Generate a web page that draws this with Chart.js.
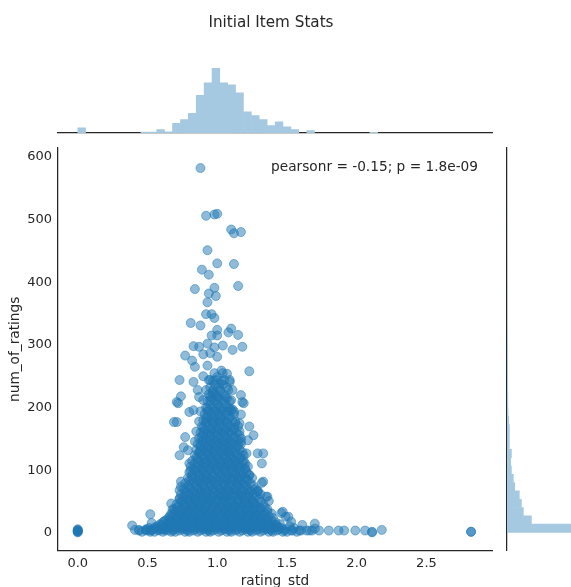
<!DOCTYPE html>
<html>
<head>
<meta charset="utf-8">
<script src="https://cdn.jsdelivr.net/npm/chart.js@4.4.1/dist/chart.umd.min.js"></script>
<style>
  body { margin: 0; background: #fff; overflow: hidden; width: 571px; height: 587px; }
  canvas { position: absolute; left: 0; top: 0; }
</style>
</head>
<body>
<canvas id="mainChart" width="571" height="590"></canvas>
<canvas id="topHist" width="542" height="140"></canvas>
<canvas id="rightHist" width="600" height="590"></canvas>
<script>
// ---- data ----
const titleText = 'Initial Item Stats';
const xLabel = 'rating_std';
const yLabel = 'num_of_ratings';
const noteText = 'pearsonr = -0.15; p = 1.8e-09';

// scatter: [rating_std, num_of_ratings]
const zeroPoints = [[0,1],[0,2],[0,3],[0,4],[0,5],[0,6],[0,3]];
const upperPoints = [
  [0.88,582],[0.92,506],[0.98,508],[1.0,509],[1.10,484],[1.12,478],[1.17,480],
  [0.93,451],[1.0,430],[1.12,429],[0.89,420],[0.94,412],[0.84,389],[0.98,391],
  [1.15,394],[0.94,382],[0.99,378],[0.93,368],[0.92,349],[0.96,349],[0.98,343],
  [0.81,335],[0.88,331],[0.96,315],[1.0,324],[1.0,315],[1.08,320],[1.10,326],
  [1.15,316],[0.83,298],[0.87,297],[0.93,302],[0.98,296],[1.04,299],[1.11,292],
  [1.18,297],[0.77,283],[0.82,275],[0.90,285],[0.95,287],[1.0,281],[0.93,267],
  [0.84,265],[1.03,259],[1.07,254],[1.23,258],[0.73,244],[0.83,241],[0.90,250],
  [0.95,244],[1.02,238],[1.09,241],[1.11,228],[0.74,218],[0.71,209],[0.86,228],
  [0.87,217],[0.97,222],[1.17,220],[1.18,209]
];
const sidePoints = [
  [0.72,207],[0.69,177],[0.71,177],[0.80,193],[0.83,196],[1.17,189],[1.11,197],
  [1.19,207],[1.23,170],[1.26,156],[1.22,148],[1.16,175],[0.77,153],[0.76,137],
  [0.73,124],[0.79,132],[1.29,127],[1.33,127],[1.32,111],[1.21,127],[1.20,103],
  [1.23,92],[0.80,111],[0.81,100],[1.33,82],[1.29,68],[1.36,58],[0.74,82],[0.73,68]
];
const lowPoints = [
  [0.39,12],[0.41,5],[0.44,5],[0.52,30],[0.53,16],[0.49,5],[0.53,5],[0.58,5],
  [0.62,5],[0.67,47],[0.68,38],[0.65,16],[0.74,74],[0.73,55],[1.32,80],[1.29,66],
  [1.35,58],[1.37,51],[1.46,32],[1.49,26],[1.53,18],[1.61,13],[1.47,34],[1.51,26],
  [1.70,15],[1.70,7]
];
const tailPoints = [
  [1.54,4],[1.59,4],[1.64,4],[1.68,4],[1.73,4],[1.80,4],[1.87,4],[1.91,4],
  [1.99,4],[2.06,4],[2.11,1],[2.11,2],[2.18,5],[2.82,2],[2.82,2]
];
// dense core: [num_of_ratings, [rating_std values at that level]]
const coreRows = [
  [2, [0.46,0.52,0.55,0.61,0.67,0.7,0.77,0.8,0.86,0.92,0.95,1.01,1.07,1.1,1.16,1.22,1.25,1.31,1.37,1.4,1.47,1.5,1.57]],
  [4, [0.44,0.49,0.52,0.58,0.64,0.68,0.73,0.79,0.83,0.88,0.94,0.97,1.03,1.09,1.13,1.18,1.24,1.28,1.33,1.39,1.43,1.48,1.53,1.6,1.66]],
  [6, [0.49,0.54,0.6,0.63,0.69,0.75,0.78,0.84,0.9,0.93,0.99,1.05,1.08,1.14,1.2,1.23,1.29,1.35,1.38,1.44,1.49]],
  [8, [0.51,0.57,0.62,0.66,0.72,0.76,0.81,0.87,0.91,0.96,1.02,1.06,1.11,1.17,1.21,1.26,1.32,1.36,1.41,1.46,1.55]],
  [11, [0.57,0.63,0.68,0.72,0.78,0.83,0.88,0.92,0.98,1.03,1.08,1.12,1.18,1.23,1.28,1.33,1.38,1.43,1.52]],
  [14, [0.59,0.65,0.7,0.75,0.8,0.85,0.9,0.95,1.0,1.05,1.1,1.15,1.2,1.25,1.3,1.35,1.4,1.45]],
  [17, [0.61,0.67,0.72,0.77,0.82,0.87,0.93,0.97,1.02,1.07,1.13,1.17,1.22,1.27,1.33,1.37,1.42]],
  [20, [0.63,0.69,0.74,0.79,0.84,0.89,0.94,0.99,1.04,1.09,1.14,1.19,1.24,1.29,1.34,1.39]],
  [24, [0.65,0.7,0.75,0.81,0.85,0.9,0.96,1.0,1.05,1.11,1.15,1.2,1.26,1.3,1.35,1.4]],
  [27, [0.66,0.72,0.77,0.82,0.87,0.92,0.97,1.02,1.07,1.12,1.17,1.22,1.27,1.32,1.37]],
  [31, [0.67,0.73,0.78,0.83,0.89,0.93,0.98,1.04,1.08,1.13,1.19,1.23,1.28,1.34,1.39]],
  [34, [0.7,0.75,0.8,0.86,0.91,0.95,1.01,1.06,1.1,1.16,1.21,1.26,1.3,1.36]],
  [38, [0.69,0.75,0.8,0.85,0.9,0.96,1.0,1.06,1.1,1.15,1.21,1.25,1.31,1.36]],
  [42, [0.72,0.78,0.83,0.88,0.92,0.98,1.03,1.08,1.13,1.17,1.23,1.28,1.34]],
  [46, [0.71,0.77,0.82,0.87,0.93,0.97,1.03,1.07,1.12,1.18,1.22,1.27,1.33]],
  [50, [0.74,0.8,0.85,0.9,0.95,1.01,1.06,1.11,1.16,1.21,1.26,1.31]],
  [54, [0.73,0.79,0.84,0.89,0.94,1.0,1.04,1.09,1.15,1.19,1.24,1.3]],
  [58, [0.76,0.82,0.87,0.92,0.97,1.02,1.07,1.12,1.18,1.23,1.28]],
  [62, [0.74,0.8,0.85,0.91,0.95,1.01,1.06,1.1,1.16,1.21,1.26,1.31]],
  [66, [0.77,0.83,0.88,0.93,0.99,1.04,1.09,1.14,1.19,1.24,1.29]],
  [70, [0.76,0.81,0.87,0.91,0.97,1.02,1.07,1.12,1.17,1.22,1.27]],
  [75, [0.79,0.85,0.9,0.95,1.0,1.05,1.1,1.15,1.21,1.26]],
  [79, [0.77,0.83,0.88,0.94,0.98,1.04,1.08,1.14,1.18,1.24]],
  [84, [0.8,0.86,0.91,0.96,1.01,1.07,1.12,1.17,1.22]],
  [88, [0.79,0.84,0.9,0.94,1.0,1.05,1.1,1.15,1.2,1.25]],
  [93, [0.82,0.87,0.92,0.97,1.03,1.08,1.13,1.18,1.23]],
  [97, [0.8,0.86,0.9,0.96,1.01,1.06,1.11,1.16,1.21]],
  [102, [0.83,0.89,0.94,0.99,1.04,1.09,1.14,1.2]],
  [106, [0.81,0.87,0.92,0.97,1.02,1.07,1.12,1.17,1.22]],
  [111, [0.84,0.9,0.95,1.0,1.05,1.1,1.15,1.2]],
  [115, [0.82,0.88,0.93,0.98,1.03,1.08,1.13,1.19]],
  [120, [0.85,0.91,0.96,1.01,1.06,1.11,1.17]],
  [124, [0.84,0.89,0.94,0.99,1.04,1.09,1.14,1.19]],
  [129, [0.87,0.92,0.97,1.02,1.07,1.12,1.18]],
  [133, [0.85,0.9,0.95,1.0,1.05,1.1,1.16]],
  [138, [0.88,0.93,0.98,1.03,1.08,1.14]],
  [142, [0.86,0.91,0.96,1.01,1.06,1.11,1.17]],
  [147, [0.89,0.94,0.99,1.04,1.09,1.15]],
  [151, [0.87,0.92,0.97,1.02,1.07,1.12,1.17]],
  [156, [0.9,0.95,1.0,1.05,1.1,1.16]],
  [160, [0.88,0.93,0.98,1.03,1.08,1.14]],
  [165, [0.91,0.96,1.01,1.06,1.12]],
  [170, [0.89,0.94,0.99,1.04,1.09,1.15]],
  [175, [0.92,0.97,1.02,1.07,1.13]],
  [180, [0.9,0.95,1.0,1.05,1.11]],
  [185, [0.93,0.98,1.03,1.09]],
  [190, [0.91,0.96,1.01,1.06,1.12]],
  [195, [0.94,0.99,1.04,1.1]],
  [200, [0.92,0.97,1.02,1.08]],
  [205, [0.95,1.0,1.06]],
  [210, [0.93,0.98,1.03,1.09]],
  [215, [0.96,1.01,1.07]],
  [221, [0.94,0.99,1.05]],
  [226, [0.97,1.02]],
  [232, [0.95,1.01,1.07]],
  [237, [0.98,1.04]],
  [243, [0.97,1.03]],
  [249, [1.0]],
  [255, [0.98,1.04]]
];
// extra overlapping points where the cloud reads as solid
const denseRows = [
  [9, [0.55,0.6,0.65,0.7,0.74,0.79,0.84,0.89,0.94,0.99,1.04,1.09,1.14,1.19,1.24,1.29,1.34,1.39,1.44]],
  [19, [0.62,0.67,0.71,0.76,0.81,0.86,0.91,0.96,1.01,1.06,1.11,1.16,1.21,1.26,1.31,1.36]],
  [29, [0.68,0.73,0.78,0.83,0.88,0.93,0.98,1.03,1.08,1.13,1.18,1.23,1.28,1.33]],
  [40, [0.71,0.76,0.81,0.86,0.91,0.96,1.01,1.06,1.11,1.16,1.21,1.26,1.31]],
  [52, [0.75,0.8,0.85,0.9,0.95,1.0,1.05,1.1,1.15,1.2,1.25]],
  [64, [0.78,0.83,0.88,0.93,0.98,1.03,1.08,1.13,1.18,1.23]],
  [77, [0.8,0.85,0.9,0.95,1.0,1.05,1.1,1.15,1.2]],
  [90, [0.82,0.87,0.92,0.97,1.02,1.07,1.12,1.17]],
  [104, [0.85,0.9,0.95,1.0,1.05,1.1,1.15]],
  [118, [0.86,0.91,0.96,1.01,1.06,1.11,1.16]],
  [132, [0.88,0.93,0.98,1.03,1.08,1.13]],
  [146, [0.84,0.9,0.95,1.0,1.05,1.1,1.17]],
  [162, [0.85,0.9,0.95,1.0,1.05,1.1,1.16]],
  [178, [0.87,0.92,0.97,1.02,1.07,1.13]],
  [194, [0.88,0.93,0.98,1.03,1.08,1.12]],
  [212, [0.9,0.95,1.0,1.05,1.1]],
  [228, [0.92,0.97,1.02,1.08]],
  [244, [0.94,0.99,1.05,1.09]]
];
const centreRows = [
  [13, [0.6,0.66,0.71,0.77,0.82,0.88,0.93,0.99,1.04,1.1,1.15,1.21,1.26,1.32,1.37,1.42]],
  [22, [0.66,0.72,0.77,0.83,0.88,0.94,0.99,1.05,1.1,1.16,1.21,1.27,1.32]],
  [36, [0.72,0.78,0.83,0.89,0.94,1.0,1.05,1.11,1.16,1.22,1.28]],
  [48, [0.76,0.82,0.87,0.93,0.98,1.04,1.09,1.15,1.2,1.26]],
  [60, [0.79,0.84,0.9,0.95,1.01,1.06,1.12,1.17,1.22]],
  [72, [0.8,0.86,0.91,0.97,1.02,1.08,1.13,1.19]],
  [86, [0.82,0.88,0.93,0.99,1.04,1.1,1.15,1.21]],
  [100, [0.84,0.89,0.95,1.0,1.06,1.11,1.17]],
  [113, [0.86,0.91,0.97,1.02,1.08,1.13,1.18]],
  [127, [0.87,0.93,0.98,1.04,1.09,1.15]],
  [140, [0.88,0.94,0.99,1.05,1.1,1.15]],
  [154, [0.89,0.95,1.0,1.06,1.12]],
  [168, [0.9,0.96,1.01,1.07,1.12]],
  [183, [0.92,0.97,1.02,1.08]],
  [199, [0.93,0.99,1.04,1.09]],
  [218, [0.95,1.0,1.06]]
];

// marginal histograms
const topBinStart = 0, topBinWidth = 0.0566;
const topCounts = [21,0,0,0,0,0,0,0,5,5, 14,6,38,52,76,144,192,247,192,184,
  154,82,67,52,29,44,25,14,0,10, 0,0,0,0,0,0,0,4,0,0, 0,0,0,0,0,0,0,0,0,0];
const rightBinStart = 1, rightBinWidth = 13.25;
const rightCounts = [574,215,145,128,110,70,58,41,35,41, 23,23,23,17,12,10,10,9,9,8,
  7,6,8,4,5,1,2,1,2,3, 0,2,2,1,0,0,3,0,3,0, 0,0,0,1];

const xTicks = [0, 0.5, 1.0, 1.5, 2.0, 2.5];
const yTicks = [0, 100, 200, 300, 400, 500, 600];

// ---- styling ----
const ink = '#262626';
const blue = 'rgba(31,119,180,0.5)';
const histBlue = '#a5c9e1'; // C0 at alpha .4 over white
const xRange = { min: -0.1415, max: 2.97 };
const yRange = { min: -28, max: 614 };
Chart.defaults.font.family = '"DejaVu Sans", sans-serif';
Chart.defaults.color = ink;

const hidden = { ticks: { display: false }, grid: { display: false, drawTicks: false }, border: { display: false } };
const spine = { display: true, color: ink, width: 1.25 };

const scatterData = [];
[zeroPoints, upperPoints, sidePoints, lowPoints, tailPoints].forEach(list => {
  list.forEach(([x, y]) => scatterData.push({ x, y }));
});
[coreRows, denseRows, centreRows].forEach(rows => {
  rows.forEach(([y, xs]) => xs.forEach(x => scatterData.push({ x, y })));
});

const statsNote = {
  id: 'statsNote',
  afterDraw(chart) {
    const { ctx, chartArea } = chart;
    ctx.save();
    ctx.font = '13.7px "DejaVu Sans"';
    ctx.fillStyle = ink;
    ctx.textAlign = 'right';
    ctx.textBaseline = 'middle';
    ctx.fillText(noteText, chartArea.right - 14, chartArea.top + 19);
    ctx.restore();
  }
};

new Chart(document.getElementById('mainChart'), {
  type: 'scatter',
  data: {
    datasets: [{
      data: scatterData,
      backgroundColor: blue,
      borderColor: blue,
      borderWidth: 1,
      pointRadius: 4.5
    }]
  },
  options: {
    responsive: false,
    animation: false,
    layout: { padding: { top: 148, right: 79, left: 0, bottom: 0 } },
    plugins: { legend: { display: false }, tooltip: { enabled: false } },
    scales: {
      x: {
        type: 'linear', ...xRange,
        grid: { display: false, drawTicks: false },
        border: spine,
        afterBuildTicks: s => { s.ticks = xTicks.map(v => ({ value: v })); },
        ticks: { padding: 5, font: { size: 13 }, color: ink, callback: v => v.toFixed(1) },
        title: { display: true, text: xLabel, font: { size: 13.7 }, color: ink, padding: { top: 0, bottom: 0 } },
        afterFit: s => { s.height = 39.4; }
      },
      y: {
        type: 'linear', ...yRange,
        grid: { display: false, drawTicks: false },
        border: spine,
        afterBuildTicks: s => { s.ticks = yTicks.map(v => ({ value: v })); },
        ticks: { padding: 6, font: { size: 13 }, color: ink },
        title: { display: true, text: yLabel, font: { size: 13.7 }, color: ink, padding: { top: 7, bottom: 0 } },
        afterFit: s => { s.width = 58; }
      }
    }
  },
  plugins: [statsNote]
});

new Chart(document.getElementById('topHist'), {
  type: 'bar',
  data: {
    datasets: [{
      data: topCounts.map((c, i) => ({ x: topBinStart + topBinWidth * (i + 0.5), y: c })),
      backgroundColor: histBlue,
      borderWidth: 0,
      barPercentage: 1.06,
      categoryPercentage: 1
    }]
  },
  options: {
    responsive: false,
    animation: false,
    plugins: {
      legend: { display: false },
      tooltip: { enabled: false },
      title: {
        display: true, text: titleText, color: ink,
        font: { size: 15.2, weight: 'normal' },
        padding: { top: 14, bottom: 21 }
      }
    },
    scales: {
      x: {
        type: 'linear', ...xRange, offset: false,
        ticks: { display: false }, grid: { display: false, drawTicks: false },
        border: spine,
        afterFit: s => { s.height = 7; }
      },
      y: { type: 'linear', min: 0, max: 303, ...hidden, afterFit: s => { s.width = 58; } },
      yRight: { type: 'linear', position: 'right', ...hidden, afterFit: s => { s.width = 50; } }
    }
  }
});

new Chart(document.getElementById('rightHist'), {
  type: 'bar',
  data: {
    datasets: [{
      data: rightCounts.map((c, i) => ({ y: rightBinStart + rightBinWidth * (i + 0.5), x: c })),
      backgroundColor: histBlue,
      borderWidth: 0,
      barPercentage: 1.06,
      categoryPercentage: 1
    }]
  },
  options: {
    indexAxis: 'y',
    responsive: false,
    animation: false,
    layout: { padding: { top: 148, right: 13, left: 0, bottom: 0 } },
    plugins: { legend: { display: false }, tooltip: { enabled: false } },
    scales: {
      y: {
        type: 'linear', ...yRange, offset: false, position: 'left',
        ticks: { display: false }, grid: { display: false, drawTicks: false },
        border: spine,
        afterFit: s => { s.width = 507; }
      },
      x: { type: 'linear', min: 0, max: 696, position: 'bottom', ...hidden, afterFit: s => { s.height = 39.4; } }
    }
  }
});
</script>
</body>
</html>
